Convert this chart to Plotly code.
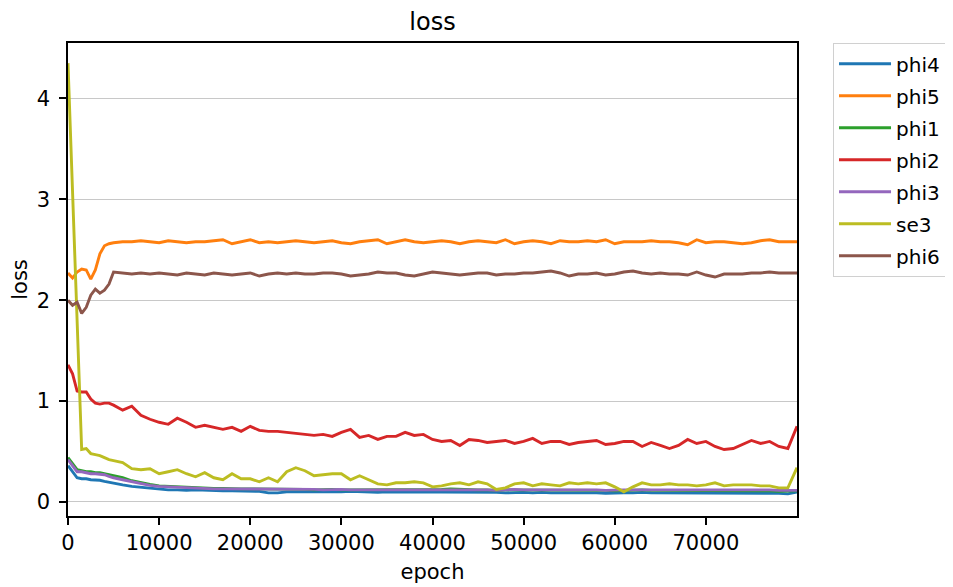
import plotly.graph_objects as go

epochs = [0, 500, 1000, 1500, 2000, 2500, 3000, 3500, 4000, 4500, 5000] + list(range(6000, 80001, 1000))

phi4 = [0.36, 0.30, 0.24, 0.23, 0.23, 0.22, 0.22, 0.215, 0.205, 0.195, 0.185,
        0.17, 0.155, 0.145, 0.135, 0.125, 0.12, 0.12, 0.115, 0.12, 0.115,
        0.115, 0.11, 0.11, 0.11, 0.105, 0.105, 0.09, 0.09, 0.10, 0.10,
        0.10, 0.10, 0.095, 0.10, 0.10, 0.105, 0.10, 0.10, 0.095, 0.10,
        0.10, 0.10, 0.095, 0.10, 0.10, 0.095, 0.10, 0.10, 0.095, 0.095,
        0.095, 0.095, 0.09, 0.095, 0.095, 0.09, 0.095, 0.09, 0.09, 0.095,
        0.09, 0.095, 0.09, 0.085, 0.09, 0.09, 0.09, 0.095, 0.09, 0.09,
        0.09, 0.09, 0.09, 0.09, 0.09, 0.085, 0.09, 0.09, 0.09, 0.09,
        0.09, 0.09, 0.085, 0.08, 0.10]

phi5 = [2.27, 2.22, 2.28, 2.31, 2.30, 2.21, 2.30, 2.46, 2.54, 2.56, 2.57,
        2.58, 2.58, 2.59, 2.58, 2.57, 2.59, 2.58, 2.57, 2.58, 2.58,
        2.59, 2.60, 2.56, 2.58, 2.60, 2.57, 2.58, 2.57, 2.58, 2.59,
        2.58, 2.57, 2.58, 2.59, 2.57, 2.56, 2.58, 2.59, 2.60, 2.56,
        2.58, 2.60, 2.58, 2.57, 2.58, 2.59, 2.58, 2.56, 2.58, 2.59,
        2.58, 2.57, 2.60, 2.56, 2.58, 2.59, 2.58, 2.56, 2.59, 2.58,
        2.58, 2.59, 2.58, 2.60, 2.56, 2.58, 2.58, 2.58, 2.59, 2.58,
        2.58, 2.57, 2.55, 2.60, 2.57, 2.58, 2.58, 2.57, 2.56, 2.57,
        2.59, 2.60, 2.58, 2.58, 2.58]

phi1 = [0.44, 0.38, 0.32, 0.31, 0.30, 0.30, 0.29, 0.29, 0.28, 0.27, 0.26,
        0.24, 0.21, 0.19, 0.175, 0.16, 0.155, 0.15, 0.145, 0.14, 0.14,
        0.135, 0.135, 0.13, 0.13, 0.13, 0.13, 0.125, 0.125, 0.125, 0.125,
        0.125, 0.12, 0.125, 0.125, 0.12, 0.12, 0.125, 0.12, 0.12, 0.12,
        0.12, 0.12, 0.125, 0.12, 0.12, 0.125, 0.13, 0.125, 0.12, 0.12,
        0.12, 0.115, 0.12, 0.12, 0.115, 0.12, 0.12, 0.115, 0.115, 0.12,
        0.115, 0.115, 0.12, 0.115, 0.11, 0.115, 0.115, 0.12, 0.115, 0.115,
        0.115, 0.115, 0.11, 0.115, 0.115, 0.11, 0.115, 0.11, 0.115, 0.11,
        0.11, 0.11, 0.105, 0.11, 0.11]

phi2 = [1.36, 1.27, 1.10, 1.09, 1.09, 1.02, 0.98, 0.97, 0.98, 0.98, 0.96,
        0.91, 0.95, 0.86, 0.82, 0.79, 0.77, 0.83, 0.79, 0.74, 0.76,
        0.74, 0.72, 0.74, 0.70, 0.75, 0.71, 0.70, 0.70, 0.69, 0.68,
        0.67, 0.66, 0.67, 0.65, 0.69, 0.72, 0.64, 0.66, 0.62, 0.65,
        0.65, 0.69, 0.66, 0.67, 0.62, 0.60, 0.61, 0.56, 0.62, 0.61,
        0.59, 0.60, 0.61, 0.58, 0.60, 0.63, 0.58, 0.60, 0.60, 0.57,
        0.59, 0.60, 0.61, 0.57, 0.58, 0.60, 0.60, 0.55, 0.59, 0.56,
        0.53, 0.56, 0.62, 0.58, 0.60, 0.55, 0.52, 0.53, 0.57, 0.61,
        0.58, 0.60, 0.55, 0.53, 0.75]

phi3 = [0.42, 0.36, 0.30, 0.30, 0.29, 0.28, 0.28, 0.275, 0.27, 0.255, 0.24,
        0.22, 0.20, 0.18, 0.165, 0.155, 0.15, 0.145, 0.14, 0.135, 0.135,
        0.13, 0.13, 0.13, 0.13, 0.13, 0.125, 0.125, 0.125, 0.125, 0.125,
        0.125, 0.125, 0.12, 0.125, 0.125, 0.12, 0.12, 0.125, 0.12, 0.12,
        0.125, 0.12, 0.12, 0.12, 0.125, 0.125, 0.12, 0.12, 0.125, 0.12,
        0.12, 0.115, 0.12, 0.125, 0.12, 0.12, 0.125, 0.12, 0.12, 0.12,
        0.12, 0.12, 0.12, 0.115, 0.12, 0.12, 0.12, 0.12, 0.12, 0.12,
        0.12, 0.12, 0.125, 0.12, 0.12, 0.12, 0.12, 0.12, 0.12, 0.12,
        0.12, 0.12, 0.115, 0.115, 0.115]

se3 = [4.35, 3.10, 1.75, 0.52, 0.53, 0.48, 0.47, 0.46, 0.44, 0.42, 0.41,
       0.39, 0.33, 0.32, 0.33, 0.28, 0.30, 0.32, 0.28, 0.25, 0.29,
       0.24, 0.22, 0.28, 0.23, 0.23, 0.20, 0.24, 0.20, 0.30, 0.34,
       0.31, 0.26, 0.27, 0.28, 0.28, 0.22, 0.26, 0.22, 0.18, 0.17,
       0.19, 0.19, 0.20, 0.19, 0.15, 0.16, 0.18, 0.19, 0.17, 0.20,
       0.18, 0.125, 0.14, 0.18, 0.19, 0.16, 0.18, 0.17, 0.16, 0.19,
       0.18, 0.19, 0.18, 0.19, 0.15, 0.10, 0.15, 0.19, 0.17, 0.17,
       0.18, 0.17, 0.17, 0.16, 0.17, 0.19, 0.16, 0.17, 0.17, 0.17,
       0.16, 0.16, 0.14, 0.14, 0.34]

phi6 = [2.00, 1.95, 1.98, 1.87, 1.93, 2.05, 2.11, 2.07, 2.10, 2.16, 2.28,
        2.27, 2.26, 2.27, 2.26, 2.27, 2.26, 2.25, 2.27, 2.26, 2.25,
        2.27, 2.26, 2.25, 2.26, 2.27, 2.24, 2.26, 2.27, 2.26, 2.27,
        2.26, 2.26, 2.27, 2.27, 2.26, 2.24, 2.25, 2.26, 2.28, 2.27,
        2.27, 2.25, 2.24, 2.26, 2.28, 2.27, 2.26, 2.25, 2.26, 2.27,
        2.27, 2.25, 2.26, 2.26, 2.27, 2.27, 2.28, 2.29, 2.27, 2.24,
        2.26, 2.26, 2.27, 2.25, 2.26, 2.28, 2.29, 2.27, 2.26, 2.27,
        2.26, 2.26, 2.25, 2.28, 2.25, 2.23, 2.26, 2.26, 2.26, 2.27,
        2.27, 2.28, 2.27, 2.27, 2.27]

series_names = ["phi4", "phi5", "phi1", "phi2", "phi3", "se3", "phi6"]
series_values = [phi4, phi5, phi1, phi2, phi3, se3, phi6]
colors = ["#1f77b4", "#ff7f0e", "#2ca02c", "#d62728", "#9467bd", "#bcbd22", "#8c564b"]

x_ticks = [0, 10000, 20000, 30000, 40000, 50000, 60000, 70000]
y_ticks = [0, 1, 2, 3, 4]

FONT = "DejaVu Sans"

fig = go.Figure()
for name, vals, col in zip(series_names, series_values, colors):
    fig.add_trace(go.Scatter(
        x=epochs, y=vals, mode="lines", name=name,
        line=dict(color=col, width=2.9),
        legendgroup=name,
    ))

fig.update_layout(
    width=945, height=579,
    margin=dict(l=60, r=156, t=35, b=71, autoexpand=False),
    paper_bgcolor="white", plot_bgcolor="white",
    font=dict(family=FONT, size=21, color="black"),
    title=dict(text="loss", x=0.5, xref="paper", xanchor="center",
               y=1 - 14 / 579, yref="container", yanchor="middle",
               font=dict(family=FONT, size=24, color="black")),
    legend=dict(x=1.049, y=1.0, xanchor="left", yanchor="top",
                bordercolor="#d0d0d0", borderwidth=1.3, bgcolor="white",
                font=dict(family=FONT, size=20, color="black"),
                itemwidth=52, tracegroupgap=3, traceorder="grouped"),
    showlegend=True,
)

fig.update_xaxes(
    range=[0, 80000], tickvals=x_ticks, tickformat="d",
    showline=True, linecolor="black", linewidth=1.5, mirror=True,
    ticks="outside", ticklen=7, tickwidth=1.5, tickcolor="black",
    showgrid=False, zeroline=False, automargin=False,
    title=dict(text="epoch", standoff=10, font=dict(family=FONT, size=21)),
    tickfont=dict(family=FONT, size=21),
)
fig.update_yaxes(
    range=[-0.139, 4.55], tickvals=y_ticks,
    showline=True, linecolor="black", linewidth=1.5, mirror=True,
    ticks="outside", ticklen=7, tickwidth=1.5, tickcolor="black",
    showgrid=True, gridcolor="#c8c8c8", gridwidth=1, zeroline=False,
    automargin=False, ticklabelstandoff=5,
    title=dict(text="loss", standoff=11, font=dict(family=FONT, size=21)),
    tickfont=dict(family=FONT, size=21),
)

fig.write_html("out.html")
